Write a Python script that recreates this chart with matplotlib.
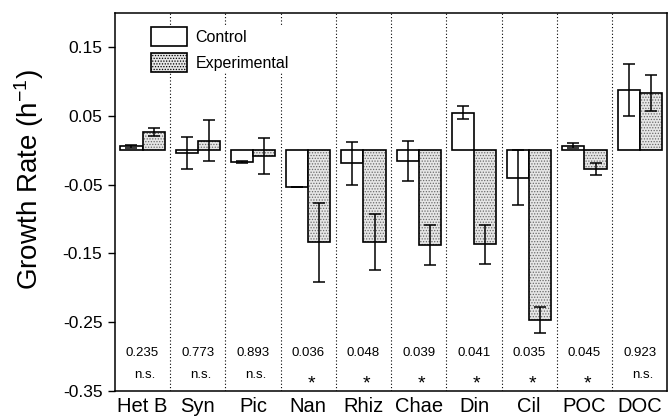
from matplotlib import pyplot as plt
from matplotlib.patches import Patch
import numpy as np

plt.rcParams['font.family'] = ['Liberation Sans', 'DejaVu Sans']
plt.rcParams['mathtext.default'] = 'regular'
plt.rcParams['hatch.linewidth'] = 0.6

categories = ['Het B', 'Syn', 'Pic', 'Nan', 'Rhiz', 'Chae', 'Din', 'Cil', 'POC', 'DOC']
control = [0.006, -0.004, -0.017, -0.054, -0.019, -0.016, 0.055, -0.040, 0.007, 0.088]
control_err = [0.002, 0.023, 0.002, 0.0, 0.031, 0.029, 0.010, 0.040, 0.003, 0.038]
experimental = [0.027, 0.014, -0.008, -0.134, -0.133, -0.138, -0.137, -0.247, -0.027, 0.084]
experimental_err = [0.006, 0.030, 0.026, 0.057, 0.041, 0.029, 0.029, 0.019, 0.009, 0.026]
p_values = ['0.235', '0.773', '0.893', '0.036', '0.048', '0.039', '0.041', '0.035', '0.045', '0.923']
significance = ['n.s.', 'n.s.', 'n.s.', '*', '*', '*', '*', '*', '*', 'n.s.']

x = np.arange(len(categories))
w = 0.4

fig = plt.figure(figsize=(6.68, 4.18), dpi=100)
ax = fig.add_axes([0.172, 0.065, 0.827, 0.904])

# group separators
for sep in x[:-1] + 0.5:
    ax.axvline(sep, color='black', linestyle=(0, (1, 2)), linewidth=0.8, zorder=0)

ax.bar(x - w / 2, control, w, color='white', edgecolor='black', linewidth=1.2, zorder=2)
# stippled fill first, then the black outline on top
ax.bar(x + w / 2, experimental, w, color='#e6e6e6', edgecolor='#6a6a6a', hatch='......',
       linewidth=0, zorder=2)
ax.bar(x + w / 2, experimental, w, color='none', edgecolor='black', linewidth=1.2, zorder=3)

ax.errorbar(x - w / 2, control, yerr=control_err, fmt='none', ecolor='black',
            elinewidth=1.1, capsize=4.3, capthick=1.1, zorder=4)
ax.errorbar(x + w / 2, experimental, yerr=experimental_err, fmt='none', ecolor='black',
            elinewidth=1.1, capsize=4.3, capthick=1.1, zorder=4)

for i in x:
    ax.text(i, -0.299, p_values[i], ha='center', va='baseline', fontsize=9.5)
    if significance[i] == '*':
        ax.text(i + 0.05, -0.347, '*', ha='center', va='baseline', fontsize=14)
    else:
        ax.text(i + 0.05, -0.331, significance[i], ha='center', va='baseline', fontsize=9.5)

ax.set_xlim(-0.5, len(categories) - 0.5)
ax.set_ylim(-0.35, 0.2)
yt = [-0.35, -0.25, -0.15, -0.05, 0.05, 0.15]
ax.set_yticks(yt)
ax.set_yticklabels(['%.2f' % v for v in yt], fontsize=12.5)
ax.set_xticks(x)
ax.set_xticklabels(categories, fontsize=14.5)
ax.tick_params(axis='x', length=0, pad=4.5)
ax.tick_params(axis='y', direction='out', length=5, width=1, pad=4)
for s in ax.spines.values():
    s.set_linewidth(1.1)

ax.set_ylabel('Growth Rate (h$^{-1}$)', fontsize=20)
ax.yaxis.set_label_coords(-0.125, 0.56)

handles = [Patch(facecolor='white', edgecolor='black', linewidth=1.2),
           Patch(facecolor='#e6e6e6', edgecolor='black', hatch='......', linewidth=1.2)]
leg = ax.legend(handles, ['Control', 'Experimental'], loc='upper left',
                bbox_to_anchor=(0.065, 0.963), fontsize=11.5, frameon=True,
                fancybox=False, edgecolor='none', facecolor='white', framealpha=1,
                borderpad=0, borderaxespad=0, handlelength=2.25, handleheight=1.45,
                labelspacing=0.45, handletextpad=0.55)
leg.set_zorder(5)

fig.savefig('out.png', dpi=100)
